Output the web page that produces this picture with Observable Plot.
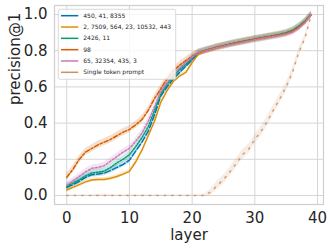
<!DOCTYPE html>
<html><head><meta charset="utf-8">
<script src="https://cdn.jsdelivr.net/npm/d3@7"></script>
<script src="https://cdn.jsdelivr.net/npm/@observablehq/plot@0.6"></script>
<style>
body{margin:0;background:#fff}
#chart{width:331px;height:250px}
</style>
</head><body><div id="chart"></div>
<script>
const layers = [0,1,2,3,4,5,6,7,8,9,10,11,12,13,14,15,16,17,18,19,20,21,22,23,24,25,26,27,28,29,30,31,32,33,34,35,36,37,38,39];

const seriesNames = ["450, 41, 8355","2, 7509, 564, 23, 10532, 443","2426, 11","98","65, 32354, 435, 3","Single token prompt"];
const seriesColors = ["#0173b2","#de8f05","#029e73","#d55e00","#cc78bc","#ca9161"];
const seriesDashes = ["6,2.25","none","1.5,1.5","4.5,1.9,2.2,1.9","2,1.8","1.5,6"];

const vBlue = [0.045,0.06,0.078,0.1,0.115,0.118,0.124,0.138,0.155,0.172,0.195,0.245,0.295,0.355,0.445,0.55,0.60,0.645,0.68,0.715,0.75,0.785,0.80,0.81,0.82,0.828,0.836,0.843,0.85,0.857,0.864,0.87,0.876,0.882,0.888,0.896,0.908,0.93,0.96,1.0];
const vOrange = [0.03,0.045,0.06,0.075,0.085,0.088,0.088,0.095,0.105,0.118,0.133,0.185,0.25,0.33,0.41,0.515,0.58,0.63,0.66,0.68,0.735,0.78,0.795,0.805,0.815,0.825,0.833,0.84,0.848,0.855,0.862,0.868,0.874,0.88,0.886,0.894,0.905,0.928,0.958,1.0];
const vGreen = [0.05,0.068,0.087,0.108,0.124,0.128,0.135,0.155,0.18,0.2,0.225,0.27,0.32,0.38,0.47,0.56,0.615,0.66,0.695,0.725,0.76,0.79,0.80,0.81,0.82,0.828,0.836,0.844,0.851,0.858,0.865,0.871,0.877,0.884,0.891,0.9,0.913,0.935,0.963,1.0];
const vVermillion = [0.10,0.145,0.20,0.24,0.26,0.28,0.295,0.31,0.33,0.35,0.365,0.39,0.42,0.47,0.535,0.59,0.645,0.69,0.72,0.745,0.77,0.79,0.80,0.81,0.82,0.828,0.836,0.843,0.85,0.857,0.864,0.87,0.876,0.882,0.888,0.896,0.908,0.93,0.96,1.0];
const vPink = [0.055,0.08,0.105,0.13,0.15,0.155,0.165,0.19,0.215,0.24,0.26,0.3,0.345,0.41,0.49,0.575,0.625,0.67,0.705,0.735,0.765,0.79,0.798,0.808,0.817,0.825,0.833,0.84,0.847,0.854,0.861,0.867,0.873,0.879,0.885,0.892,0.902,0.924,0.955,1.0];
const vSingle = [0,0,0,0,0,0,0,0,0,0,0,0,0,0,0,0,0,0,0,0,0,0,0,0.02,0.055,0.088,0.13,0.175,0.225,0.255,0.31,0.355,0.41,0.475,0.535,0.60,0.68,0.79,0.87,1.0];

// confidence-band half widths
const bandBlue = 0.015, bandOrange = 0.01, bandGreen = 0.018, bandVermillion = 0.02, bandPink = 0.018;
const bandSingle = [0.004,0.004,0.004,0.004,0.004,0.006,0.006,0.004,0.004,0.004,0.004,0.004,0.004,0.004,0.004,0.004,0.004,0.004,0.004,0.004,0.004,0.004,0.008,0.018,0.022,0.024,0.025,0.026,0.026,0.026,0.026,0.026,0.026,0.026,0.026,0.025,0.024,0.022,0.018,0.004];

const seriesValues = [vBlue, vOrange, vGreen, vVermillion, vPink, vSingle];
const seriesBands = [bandBlue, bandOrange, bandGreen, bandVermillion, bandPink, bandSingle];
const xTicks = [0,10,20,30,40];
const yTicks = [0,0.2,0.4,0.6,0.8,1.0];

const rows = seriesNames.flatMap((name, i) => layers.map((layer, j) => {
  const b = Array.isArray(seriesBands[i]) ? seriesBands[i][j] : seriesBands[i];
  return {series: name, layer, value: seriesValues[i][j], lo: seriesValues[i][j] - b, hi: seriesValues[i][j] + b};
}));

const drawOrder = [5,0,1,2,3,4];
const marks = [
  Plot.gridX(xTicks, {stroke:"#d6d6d6", strokeOpacity:1, strokeWidth:1}),
  Plot.gridY(yTicks, {stroke:"#d6d6d6", strokeOpacity:1, strokeWidth:1}),
];
for (const i of drawOrder) {
  const d = rows.filter(r => r.series === seriesNames[i]);
  marks.push(Plot.areaY(d, {x:"layer", y1:"lo", y2:"hi", fill: seriesColors[i], fillOpacity: i===5 ? 0.16 : 0.2}));
}
for (const i of drawOrder) {
  const d = rows.filter(r => r.series === seriesNames[i]);
  marks.push(Plot.lineY(d, {x:"layer", y:"value", stroke: seriesColors[i], strokeWidth:1.5,
    strokeDasharray: seriesDashes[i], strokeOpacity: i===5 ? 0.85 : 1}));
}
marks.push(
  Plot.frame({stroke:"#d0d0d0", strokeWidth:1.25}),
  Plot.axisX(xTicks, {tickSize:0, tickPadding:8, fontSize:15, label:null}),
  Plot.axisY(yTicks, {tickSize:0, tickPadding:7, fontSize:15, label:null, tickFormat: d3.format(".1f")}),
  Plot.text(["layer"], {frameAnchor:"bottom", dy:35, lineAnchor:"bottom", fontSize:15, fill:"#262626"}),
  Plot.text(["precision@1"], {frameAnchor:"left", dx:-35, rotate:-90, lineAnchor:"bottom", fontSize:15, fill:"#262626"})
);

const chart = Plot.plot({
  width:331, height:250,
  marginLeft:54, marginRight:8, marginTop:5, marginBottom:46,
  x:{domain:[-1.95,40.95]},
  y:{domain:[-0.05,1.05]},
  style:{fontFamily:"DejaVu Sans", fontSize:"15px", color:"#262626", background:"#fff"},
  marks
});
document.getElementById("chart").appendChild(chart);

// legend
const svg = d3.select(chart);
const lg = svg.append("g").attr("font-family","DejaVu Sans").attr("font-size","6px").attr("text-anchor","start");
lg.append("rect").attr("x",58.3).attr("y",9.3).attr("width",117.4).attr("height",70).attr("rx",2)
  .attr("fill","#fff").attr("fill-opacity",0.8).attr("stroke","#d0d0d0").attr("stroke-width",0.8);
seriesNames.forEach((name,i) => {
  const y = 15.7 + i*11.32;
  lg.append("line").attr("x1",61).attr("x2",78.3).attr("y1",y).attr("y2",y)
    .attr("stroke",seriesColors[i]).attr("stroke-width",1.5);
  lg.append("text").attr("x",83.3).attr("y",y).attr("dy","0.35em").attr("text-anchor","start")
    .attr("fill","#262626").text(name);
});
</script>
</body></html>
